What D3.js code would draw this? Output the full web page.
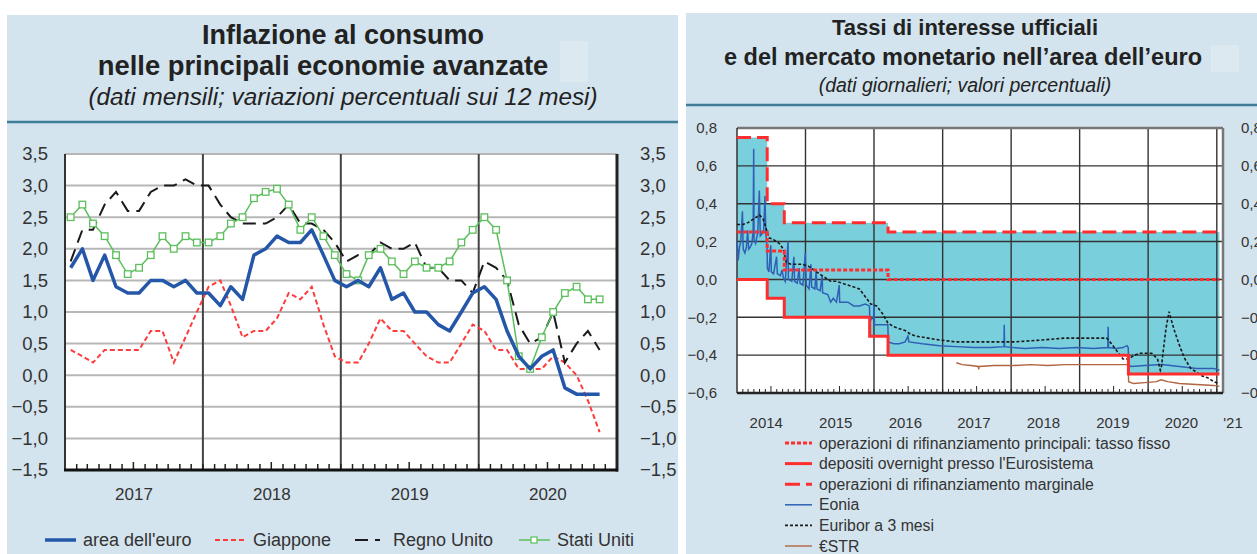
<!DOCTYPE html>
<html>
<head>
<meta charset="utf-8">
<script src="https://cdn.jsdelivr.net/npm/d3@7"></script>
<style>
  body { margin: 0; background: #fff; }
  svg { display: block; font-family: "Liberation Sans", Arial, sans-serif; }
</style>
</head>
<body>
<svg id="chart" width="1257" height="554"></svg>
<script>
// ---------- left chart: consumer inflation (monthly, Jan 2017 - Nov 2020) ----------
const firstMonth = "2017-01-01";
const euroArea = [1.7, 2.0, 1.5, 1.9, 1.4, 1.3, 1.3, 1.5, 1.5, 1.4, 1.5, 1.3,
                  1.3, 1.1, 1.4, 1.2, 1.9, 2.0, 2.2, 2.1, 2.1, 2.3, 1.9, 1.5,
                  1.4, 1.5, 1.4, 1.7, 1.2, 1.3, 1.0, 1.0, 0.8, 0.7, 1.0, 1.3,
                  1.4, 1.2, 0.7, 0.3, 0.1, 0.3, 0.4, -0.2, -0.3, -0.3, -0.3];
const japan = [0.4, 0.3, 0.2, 0.4, 0.4, 0.4, 0.4, 0.7, 0.7, 0.2, 0.6, 1.0,
               1.4, 1.5, 1.1, 0.6, 0.7, 0.7, 0.9, 1.3, 1.2, 1.4, 0.8, 0.3,
               0.2, 0.2, 0.5, 0.9, 0.7, 0.7, 0.5, 0.3, 0.2, 0.2, 0.5, 0.8,
               0.7, 0.4, 0.4, 0.1, 0.1, 0.1, 0.3, 0.2, 0.0, -0.4, -0.9];
const unitedKingdom = [1.8, 2.3, 2.3, 2.7, 2.9, 2.6, 2.6, 2.9, 3.0, 3.0, 3.1, 3.0,
                       3.0, 2.7, 2.5, 2.4, 2.4, 2.4, 2.5, 2.7, 2.4, 2.4, 2.3, 2.1,
                       1.8, 1.9, 1.9, 2.1, 2.0, 2.0, 2.1, 1.7, 1.7, 1.5, 1.5, 1.3,
                       1.8, 1.7, 1.5, 0.8, 0.5, 0.6, 1.0, 0.2, 0.5, 0.7, 0.4];
const unitedStates = [2.5, 2.7, 2.4, 2.2, 1.9, 1.6, 1.7, 1.9, 2.2, 2.0, 2.2, 2.1,
                      2.1, 2.2, 2.4, 2.5, 2.8, 2.9, 2.95, 2.7, 2.3, 2.5, 2.2, 1.9,
                      1.6, 1.5, 1.9, 2.0, 1.8, 1.6, 1.8, 1.7, 1.7, 1.8, 2.1, 2.3,
                      2.5, 2.3, 1.5, 0.3, 0.1, 0.6, 1.0, 1.3, 1.4, 1.2, 1.2];
const leftYTicks = [-1.5, -1.0, -0.5, 0, 0.5, 1.0, 1.5, 2.0, 2.5, 3.0, 3.5];
const leftYears = ["2017", "2018", "2019", "2020"];

// ---------- right chart: official and money market rates (daily) ----------
const mroRate = [["2014-01-01", 0.25], ["2014-06-11", 0.15], ["2014-09-10", 0.05],
                 ["2016-03-16", 0.00], ["2021-01-15", 0.00]];
const depositRate = [["2014-01-01", 0.00], ["2014-06-11", -0.10], ["2014-09-10", -0.20],
                     ["2015-12-09", -0.30], ["2016-03-16", -0.40], ["2019-09-18", -0.50],
                     ["2021-01-15", -0.50]];
const marginalRate = [["2014-01-01", 0.75], ["2014-06-11", 0.40], ["2014-09-10", 0.30],
                      ["2016-03-16", 0.25], ["2021-01-15", 0.25]];
const eonia = [
  ["2014-01-02", 0.20], ["2014-01-07", 0.10], ["2014-01-14", 0.17], ["2014-01-21", 0.20],
  ["2014-01-30", 0.36], ["2014-02-03", 0.16], ["2014-02-12", 0.14], ["2014-02-20", 0.17],
  ["2014-02-27", 0.26], ["2014-03-04", 0.16], ["2014-03-12", 0.17], ["2014-03-21", 0.19],
  ["2014-03-28", 0.25], ["2014-03-31", 0.69], ["2014-04-02", 0.21], ["2014-04-10", 0.19],
  ["2014-04-22", 0.25], ["2014-04-30", 0.47], ["2014-05-05", 0.23], ["2014-05-14", 0.24],
  ["2014-05-23", 0.26], ["2014-05-30", 0.44], ["2014-06-04", 0.24], ["2014-06-10", 0.17],
  ["2014-06-12", 0.06], ["2014-06-20", 0.04], ["2014-06-30", 0.18], ["2014-07-03", 0.04],
  ["2014-07-15", 0.03], ["2014-07-31", 0.12], ["2014-08-04", 0.03], ["2014-08-20", 0.02],
  ["2014-08-29", 0.05], ["2014-09-05", 0.01], ["2014-09-15", -0.01], ["2014-09-30", 0.20],
  ["2014-10-02", 0.00], ["2014-10-20", -0.01], ["2014-10-31", 0.12], ["2014-11-04", -0.01],
  ["2014-11-18", -0.02], ["2014-11-28", 0.06], ["2014-12-03", -0.02], ["2014-12-18", -0.03],
  ["2014-12-31", 0.14], ["2015-01-05", -0.03], ["2015-01-20", -0.05], ["2015-01-30", 0.08],
  ["2015-02-03", -0.04], ["2015-02-20", -0.05], ["2015-02-27", 0.05], ["2015-03-03", -0.05],
  ["2015-03-20", -0.06], ["2015-03-31", 0.02], ["2015-04-02", -0.07], ["2015-04-30", -0.08],
  ["2015-05-15", -0.12], ["2015-05-29", -0.10], ["2015-06-15", -0.12], ["2015-06-30", -0.03],
  ["2015-07-02", -0.12], ["2015-08-15", -0.12], ["2015-09-15", -0.14], ["2015-10-15", -0.14],
  ["2015-11-15", -0.13], ["2015-12-08", -0.14], ["2015-12-10", -0.22], ["2015-12-30", -0.20],
  ["2015-12-31", -0.13], ["2016-01-04", -0.24], ["2016-02-15", -0.24], ["2016-03-15", -0.24],
  ["2016-03-17", -0.33], ["2016-04-15", -0.34], ["2016-05-15", -0.34], ["2016-06-15", -0.33],
  ["2016-06-30", -0.30], ["2016-07-05", -0.33], ["2016-09-15", -0.34], ["2016-12-15", -0.35],
  ["2017-03-15", -0.355], ["2017-06-15", -0.36], ["2017-09-15", -0.36], ["2017-11-24", -0.355],
  ["2017-11-25", -0.24], ["2017-11-27", -0.355], ["2018-03-15", -0.365], ["2018-06-15", -0.36],
  ["2018-09-15", -0.365], ["2018-12-15", -0.36], ["2019-03-15", -0.365], ["2019-05-31", -0.36],
  ["2019-06-02", -0.25], ["2019-06-04", -0.36], ["2019-07-15", -0.365], ["2019-08-20", -0.36],
  ["2019-09-10", -0.35], ["2019-09-17", -0.36], ["2019-09-19", -0.45], ["2019-10-02", -0.46],
  ["2019-12-15", -0.455], ["2020-03-15", -0.45], ["2020-06-15", -0.46], ["2020-09-15", -0.47],
  ["2020-12-15", -0.47], ["2021-01-15", -0.48]];
const euribor3m = [
  ["2014-01-01", 0.29], ["2014-02-01", 0.29], ["2014-03-01", 0.30], ["2014-04-01", 0.32],
  ["2014-05-01", 0.34], ["2014-05-20", 0.32], ["2014-06-05", 0.27], ["2014-06-20", 0.22],
  ["2014-07-15", 0.21], ["2014-08-15", 0.19], ["2014-09-05", 0.16], ["2014-09-20", 0.09],
  ["2014-10-15", 0.08], ["2014-11-15", 0.08], ["2014-12-15", 0.08], ["2015-01-15", 0.07],
  ["2015-02-15", 0.05], ["2015-03-15", 0.03], ["2015-04-15", 0.01], ["2015-05-15", -0.01],
  ["2015-06-15", -0.01], ["2015-07-15", -0.02], ["2015-08-15", -0.03], ["2015-09-15", -0.04],
  ["2015-10-15", -0.05], ["2015-11-15", -0.09], ["2015-12-15", -0.13], ["2016-01-15", -0.14],
  ["2016-02-15", -0.18], ["2016-03-15", -0.23], ["2016-04-15", -0.25], ["2016-05-15", -0.26],
  ["2016-06-15", -0.27], ["2016-07-15", -0.29], ["2016-08-15", -0.30], ["2016-10-15", -0.31],
  ["2016-12-15", -0.32], ["2017-03-15", -0.33], ["2017-09-15", -0.33], ["2018-01-15", -0.33],
  ["2018-06-15", -0.32], ["2018-10-15", -0.31], ["2019-02-15", -0.31], ["2019-05-25", -0.31],
  ["2019-06-20", -0.34], ["2019-07-20", -0.38], ["2019-08-20", -0.42], ["2019-09-20", -0.42],
  ["2019-10-20", -0.40], ["2019-11-20", -0.39], ["2019-12-20", -0.39], ["2020-01-20", -0.39],
  ["2020-02-20", -0.42], ["2020-03-06", -0.48], ["2020-03-12", -0.46], ["2020-03-25", -0.35],
  ["2020-04-05", -0.26], ["2020-04-22", -0.17], ["2020-05-05", -0.22], ["2020-05-20", -0.27],
  ["2020-06-20", -0.36], ["2020-07-15", -0.42], ["2020-08-15", -0.47], ["2020-09-15", -0.49],
  ["2020-10-15", -0.51], ["2020-11-15", -0.52], ["2020-12-15", -0.54], ["2021-01-15", -0.55]];
const estr = [
  ["2017-03-15", -0.44], ["2017-04-15", -0.45], ["2017-06-01", -0.455], ["2017-07-10", -0.46],
  ["2017-07-12", -0.475], ["2017-07-14", -0.46], ["2017-10-01", -0.455], ["2018-01-15", -0.455],
  ["2018-04-15", -0.45], ["2018-07-15", -0.455], ["2018-10-15", -0.45], ["2019-01-15", -0.45],
  ["2019-04-15", -0.45], ["2019-07-15", -0.45], ["2019-09-17", -0.45], ["2019-09-19", -0.54],
  ["2019-10-15", -0.55], ["2019-12-15", -0.545], ["2020-02-15", -0.54], ["2020-03-10", -0.53],
  ["2020-04-15", -0.54], ["2020-06-15", -0.55], ["2020-09-15", -0.555], ["2020-12-15", -0.56],
  ["2021-01-15", -0.565]];
const rightYTicks = [-0.6, -0.4, -0.2, 0, 0.2, 0.4, 0.6, 0.8];
const rightYears = ["2014", "2015", "2016", "2017", "2018", "2019", "2020"];

const svg = d3.select("#chart");
const panelBg = "#d3e4ee";
const comma = d => d3.format(".1f")(d).replace(".", ",");
const parse = d3.timeParse("%Y-%m-%d");

// ================= LEFT PANEL =================
svg.append("rect").attr("x", 7).attr("y", 15).attr("width", 671).attr("height", 539).attr("fill", panelBg);
svg.append("rect").attr("x", 560).attr("y", 41).attr("width", 28).attr("height", 41).attr("fill", "#dde9f1");
svg.append("line").attr("x1", 7).attr("x2", 678).attr("y1", 122).attr("y2", 122)
  .attr("stroke", "#3f7d98").attr("stroke-width", 2.5);

const leftTitle = svg.append("g").attr("text-anchor", "middle").attr("fill", "#222");
leftTitle.append("text").attr("x", 343).attr("y", 44).attr("font-size", 27).attr("font-weight", "bold").text("Inflazione al consumo");
leftTitle.append("text").attr("x", 323).attr("y", 75).attr("font-size", 27.4).attr("font-weight", "bold").text("nelle principali economie avanzate");
leftTitle.append("text").attr("x", 343).attr("y", 105).attr("font-size", 24.3).attr("font-style", "italic").text("(dati mensili; variazioni percentuali sui 12 mesi)");

const L = { left: 65, right: 617, top: 154, bottom: 470 };
const start = parse(firstMonth);
const xL = d3.scaleTime().domain([start, new Date(2021, 0, 1)]).range([L.left, L.right]);
const yL = d3.scaleLinear().domain([-1.5, 3.5]).range([L.bottom, L.top]);
const monthMid = i => d3.timeDay.offset(d3.timeMonth.offset(start, i), 15);

const gl = svg.append("g");
gl.append("rect").attr("x", L.left).attr("y", L.top).attr("width", L.right - L.left)
  .attr("height", L.bottom - L.top).attr("fill", "#fff");
gl.selectAll(".hgrid").data(leftYTicks.filter(v => v > -1.5)).join("line")
  .attr("x1", L.left).attr("x2", L.right).attr("y1", d => yL(d)).attr("y2", d => yL(d))
  .attr("stroke", "#b7b7b7").attr("stroke-width", 2);
gl.selectAll(".vgrid").data([1, 2, 3]).join("line")
  .attr("x1", d => xL(new Date(2017 + d, 0, 1))).attr("x2", d => xL(new Date(2017 + d, 0, 1)))
  .attr("y1", L.top).attr("y2", L.bottom).attr("stroke", "#444").attr("stroke-width", 2);
gl.append("line").attr("x1", L.left).attr("x2", L.left).attr("y1", L.top).attr("y2", L.bottom)
  .attr("stroke", "#333").attr("stroke-width", 2);
gl.append("line").attr("x1", L.right).attr("x2", L.right).attr("y1", L.top).attr("y2", L.bottom + 1.5)
  .attr("stroke", "#222").attr("stroke-width", 3);

// monthly ticks on bottom axis
gl.selectAll(".mtick").data(d3.timeMonth.range(d3.timeMonth.offset(start, 1), new Date(2021, 0, 1))).join("line")
  .attr("x1", d => xL(d)).attr("x2", d => xL(d))
  .attr("y1", L.bottom).attr("y2", d => L.bottom - (d.getMonth() === 6 ? 8 : 6))
  .attr("stroke", "#222").attr("stroke-width", 1.5);
gl.append("line").attr("x1", L.left - 1).attr("x2", L.right + 1).attr("y1", L.bottom).attr("y2", L.bottom)
  .attr("stroke", "#111").attr("stroke-width", 3);

const lineL = d3.line().x((d, i) => xL(monthMid(i))).y(d => yL(d));
gl.append("path").datum(japan).attr("d", lineL).attr("fill", "none")
  .attr("stroke", "#ff3c3c").attr("stroke-width", 2).attr("stroke-dasharray", "5,3");
gl.append("path").datum(unitedKingdom).attr("d", lineL).attr("fill", "none")
  .attr("stroke", "#1a1a1a").attr("stroke-width", 2).attr("stroke-dasharray", "13,7");
gl.append("path").datum(unitedStates).attr("d", lineL).attr("fill", "none")
  .attr("stroke", "#5cbf5c").attr("stroke-width", 1.5);
gl.selectAll(".usMark").data(unitedStates).join("rect")
  .attr("x", (d, i) => xL(monthMid(i)) - 3.3).attr("y", d => yL(d) - 3.3)
  .attr("width", 6.6).attr("height", 6.6).attr("fill", "#fff").attr("stroke", "#5cbf5c").attr("stroke-width", 1.3);
gl.append("path").datum(euroArea).attr("d", lineL).attr("fill", "none")
  .attr("stroke", "#2457a8").attr("stroke-width", 3.5).attr("stroke-linejoin", "round");

// y labels both sides
const yAxisLeft = d3.axisLeft(yL).tickValues(leftYTicks).tickFormat(comma).tickSize(0).tickPadding(17);
const yAxisRight = d3.axisRight(yL).tickValues(leftYTicks).tickFormat(comma).tickSize(0).tickPadding(23);
[[yAxisLeft, L.left], [yAxisRight, L.right]].forEach(([ax, x]) => {
  const g = svg.append("g").attr("transform", `translate(${x},0)`).call(ax);
  g.select(".domain").remove();
  g.selectAll("text").attr("font-size", 18.5).attr("fill", "#333").attr("font-family", "Liberation Sans, Arial, sans-serif");
});

svg.append("g").selectAll("text").data(leftYears).join("text")
  .attr("x", d => (xL(new Date(+d, 0, 1)) + xL(new Date(+d + 1, 0, 1))) / 2)
  .attr("y", 500).attr("text-anchor", "middle").attr("font-size", 17).attr("fill", "#333").text(d => d);

// legend left
const legL = svg.append("g").attr("font-size", 18).attr("fill", "#333");
const legLItems = [
  { label: "area dell'euro", x: 45, color: "#2457a8", w: 3.5, dash: null },
  { label: "Giappone", x: 215, color: "#ff3c3c", w: 2, dash: "5,3" },
  { label: "Regno Unito", x: 355, color: "#1a1a1a", w: 2, dash: "13,7,5,20" },
  { label: "Stati Uniti", x: 519, color: "#5cbf5c", w: 1.5, dash: null, marker: true }
];
legLItems.forEach(it => {
  legL.append("line").attr("x1", it.x).attr("x2", it.x + 31).attr("y1", 540).attr("y2", 540)
    .attr("stroke", it.color).attr("stroke-width", it.w).attr("stroke-dasharray", it.dash);
  if (it.marker) legL.append("rect").attr("x", it.x + 12).attr("y", 537).attr("width", 6).attr("height", 6)
    .attr("fill", "#fff").attr("stroke", it.color).attr("stroke-width", 1.2);
  legL.append("text").attr("x", it.x + 38).attr("y", 546).text(it.label);
});

// ================= RIGHT PANEL =================
svg.append("rect").attr("x", 686).attr("y", 13).attr("width", 571).attr("height", 541).attr("fill", panelBg);
svg.append("rect").attr("x", 1211).attr("y", 45).attr("width", 28).attr("height", 27).attr("fill", "#dde9f1");
svg.append("line").attr("x1", 686).attr("x2", 1257).attr("y1", 105).attr("y2", 105)
  .attr("stroke", "#3f7d98").attr("stroke-width", 2.5);

const rightTitle = svg.append("g").attr("text-anchor", "middle").attr("fill", "#222");
rightTitle.append("text").attr("x", 965).attr("y", 35).attr("font-size", 22).attr("font-weight", "bold").text("Tassi di interesse ufficiali");
rightTitle.append("text").attr("x", 963).attr("y", 65).attr("font-size", 23.5).attr("font-weight", "bold").text("e del mercato monetario nell\u2019area dell\u2019euro");
rightTitle.append("text").attr("x", 965).attr("y", 92).attr("font-size", 19.5).attr("font-style", "italic").text("(dati giornalieri; valori percentuali)");

const R = { left: 737, right: 1223, top: 128, bottom: 393 };
const xR = d3.scaleTime().domain([new Date(2014, 0, 1), new Date(2021, 1, 3)]).range([R.left, R.right]);
const yR = d3.scaleLinear().domain([-0.6, 0.8]).range([R.bottom, R.top]);
const gr = svg.append("g");
gr.append("rect").attr("x", R.left).attr("y", R.top).attr("width", R.right - R.left)
  .attr("height", R.bottom - R.top).attr("fill", "#fff");

// corridor between deposit facility and marginal lending rates
const stepValue = (series, date) => {
  const i = d3.bisector(d => parse(d[0])).right(series, date) - 1;
  return series[Math.max(0, i)][1];
};
const corridorDates = Array.from(new Set(depositRate.concat(marginalRate).map(d => d[0]))).sort().map(parse);
gr.append("path").datum(corridorDates)
  .attr("d", d3.area().curve(d3.curveStepAfter).x(d => xR(d))
    .y0(d => yR(stepValue(depositRate, d))).y1(d => yR(stepValue(marginalRate, d))))
  .attr("fill", "#7acfdd");

// grid
gr.selectAll(".hg").data(rightYTicks.filter(v => v > -0.6 && v < 0.8)).join("line")
  .attr("x1", R.left).attr("x2", R.right).attr("y1", d => yR(d)).attr("y2", d => yR(d))
  .attr("stroke", "#333").attr("stroke-width", 1.4);
gr.selectAll(".vg").data(d3.range(2015, 2022)).join("line")
  .attr("x1", d => xR(new Date(d, 0, 1))).attr("x2", d => xR(new Date(d, 0, 1)))
  .attr("y1", R.top).attr("y2", R.bottom).attr("stroke", "#333").attr("stroke-width", 1.4);
gr.append("line").attr("x1", R.left).attr("x2", R.right).attr("y1", R.top).attr("y2", R.top)
  .attr("stroke", "#777").attr("stroke-width", 2.5);
gr.append("line").attr("x1", R.left).attr("x2", R.left).attr("y1", R.top).attr("y2", R.bottom)
  .attr("stroke", "#333").attr("stroke-width", 1.5);
gr.append("line").attr("x1", R.right).attr("x2", R.right).attr("y1", R.top).attr("y2", R.bottom)
  .attr("stroke", "#777").attr("stroke-width", 2.5);
gr.selectAll(".rt").data(d3.timeMonth.range(new Date(2014, 1, 1), new Date(2021, 1, 1))).join("line")
  .attr("x1", d => xR(d)).attr("x2", d => xR(d))
  .attr("y1", R.bottom).attr("y2", d => R.bottom - (d.getMonth() === 6 ? 7 : 4))
  .attr("stroke", "#222").attr("stroke-width", 1);
gr.append("line").attr("x1", R.left).attr("x2", R.right).attr("y1", R.bottom).attr("y2", R.bottom)
  .attr("stroke", "#222").attr("stroke-width", 2.5);

const lineR = d3.line().x(d => xR(parse(d[0]))).y(d => yR(d[1]));
const stepR = d3.line().curve(d3.curveStepAfter).x(d => xR(parse(d[0]))).y(d => yR(d[1]));
gr.append("path").datum(estr).attr("d", lineR).attr("fill", "none")
  .attr("stroke", "#b0643f").attr("stroke-width", 1.4);
gr.append("path").datum(eonia).attr("d", lineR).attr("fill", "none")
  .attr("stroke", "#2f60b5").attr("stroke-width", 1.5);
gr.append("path").datum(euribor3m).attr("d", lineR).attr("fill", "none")
  .attr("stroke", "#1a1a1a").attr("stroke-width", 1.6).attr("stroke-dasharray", "3,2");
gr.append("path").datum(depositRate).attr("d", stepR).attr("fill", "none")
  .attr("stroke", "#ff2e2e").attr("stroke-width", 3);
gr.append("path").datum(mroRate).attr("d", stepR).attr("fill", "none")
  .attr("stroke", "#ff2e2e").attr("stroke-width", 3).attr("stroke-dasharray", "4,2");
gr.append("path").datum(marginalRate).attr("d", stepR).attr("fill", "none")
  .attr("stroke", "#ff2e2e").attr("stroke-width", 3).attr("stroke-dasharray", "14,6");

const yAxisRL = d3.axisLeft(yR).tickValues(rightYTicks).tickFormat(comma).tickSize(0).tickPadding(20);
const yAxisRR = d3.axisRight(yR).tickValues(rightYTicks).tickFormat(comma).tickSize(0).tickPadding(18);
[[yAxisRL, R.left], [yAxisRR, R.right]].forEach(([ax, x]) => {
  const g = svg.append("g").attr("transform", `translate(${x},0)`).call(ax);
  g.select(".domain").remove();
  g.selectAll("text").attr("font-size", 15).attr("fill", "#333").attr("font-family", "Liberation Sans, Arial, sans-serif");
});

const yearShift = { "2014": -5, "2015": -4, "2016": -3, "2017": -3, "2018": -2, "2019": -1, "2020": -1 };
const yearLabelX = d => (xR(new Date(+d, 0, 1)) + xR(new Date(+d + 1, 0, 1))) / 2 + yearShift[d];
svg.append("g").attr("font-size", 15).attr("fill", "#333").attr("text-anchor", "middle")
  .selectAll("text").data(rightYears.concat(["'21"])).join("text")
  .attr("x", d => d === "'21" ? 1233 : yearLabelX(d)).attr("y", 428).text(d => d);

// legend right
const legR = svg.append("g").attr("font-size", 15.8).attr("fill", "#333");
const legRItems = [
  { label: "operazioni di rifinanziamento principali: tasso fisso", color: "#ff2e2e", w: 3, dash: "4,2" },
  { label: "depositi overnight presso l'Eurosistema", color: "#ff2e2e", w: 3, dash: null },
  { label: "operazioni di rifinanziamento marginale", color: "#ff2e2e", w: 3, dash: "15,6" },
  { label: "Eonia", color: "#2f60b5", w: 1.5, dash: null },
  { label: "Euribor a 3 mesi", color: "#1a1a1a", w: 1.6, dash: "3,2" },
  { label: "\u20acSTR", color: "#b0643f", w: 1.4, dash: null }
];
legRItems.forEach((it, i) => {
  const y = 443 + i * 20.6;
  legR.append("line").attr("x1", 785).attr("x2", 812).attr("y1", y).attr("y2", y)
    .attr("stroke", it.color).attr("stroke-width", it.w).attr("stroke-dasharray", it.dash);
  legR.append("text").attr("x", 819).attr("y", y + 5.5).text(it.label);
});
</script>
</body>
</html>
